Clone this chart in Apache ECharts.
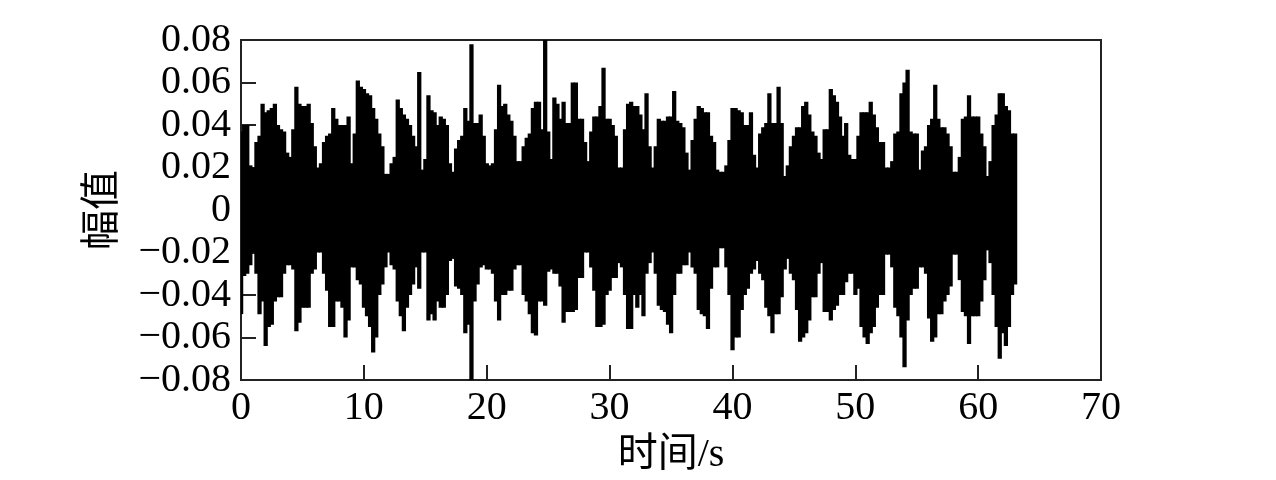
<!DOCTYPE html>
<html>
<head>
<meta charset="utf-8">
<script src="https://cdn.jsdelivr.net/npm/echarts@6/dist/echarts.min.js"></script>
<style>
html,body{margin:0;padding:0;background:#fff;}
#chart{width:1276px;height:480px;}
</style>
</head>
<body>
<div id="chart"></div>
<script>
// Sampling step of the envelope readings (s), starting at t = 0
const dt = 0.25;

// Upper envelope of the signal, read every 0.25 s (0 .. 63 s)
const upper = [
  0.037,0.040,0.040,0.021,0.020,0.032,0.035,0.050,
  0.046,0.047,0.048,0.050,0.040,0.038,0.037,0.027,
  0.025,0.038,0.058,0.050,0.049,0.049,0.050,0.041,
  0.030,0.020,0.022,0.032,0.035,0.036,0.048,0.043,
  0.040,0.040,0.040,0.044,0.022,0.036,0.061,0.058,
  0.057,0.055,0.054,0.048,0.043,0.036,0.030,0.017,
  0.017,0.022,0.025,0.052,0.048,0.045,0.043,0.040,
  0.035,0.030,0.065,0.019,0.024,0.054,0.047,0.046,
  0.040,0.044,0.043,0.040,0.022,0.018,0.029,0.033,
  0.035,0.048,0.042,0.078,0.041,0.041,0.045,0.035,
  0.022,0.021,0.022,0.038,0.059,0.049,0.050,0.045,
  0.042,0.035,0.023,0.023,0.030,0.034,0.036,0.048,
  0.051,0.051,0.038,0.080,0.037,0.024,0.053,0.050,
  0.043,0.051,0.041,0.041,0.060,0.060,0.043,0.043,
  0.032,0.023,0.037,0.044,0.044,0.049,0.067,0.043,
  0.043,0.040,0.035,0.020,0.020,0.038,0.050,0.051,
  0.049,0.049,0.045,0.038,0.055,0.030,0.020,0.030,
  0.043,0.042,0.042,0.044,0.044,0.056,0.042,0.041,
  0.039,0.027,0.019,0.033,0.043,0.049,0.048,0.046,
  0.046,0.035,0.032,0.019,0.018,0.018,0.021,0.033,
  0.048,0.048,0.047,0.046,0.040,0.040,0.046,0.026,
  0.020,0.036,0.039,0.041,0.055,0.041,0.041,0.058,
  0.041,0.016,0.021,0.030,0.035,0.039,0.039,0.049,
  0.051,0.045,0.037,0.035,0.027,0.024,0.038,0.038,
  0.057,0.054,0.051,0.044,0.035,0.041,0.026,0.024,
  0.024,0.035,0.046,0.046,0.046,0.051,0.045,0.039,
  0.032,0.032,0.020,0.020,0.023,0.036,0.037,0.055,
  0.060,0.066,0.037,0.036,0.036,0.019,0.028,0.030,
  0.040,0.043,0.059,0.043,0.039,0.039,0.036,0.030,
  0.018,0.018,0.025,0.043,0.044,0.054,0.044,0.044,
  0.044,0.036,0.030,0.016,0.023,0.040,0.045,0.055,
  0.055,0.049,0.047,0.036,0.036
];

// Lower envelope of the signal, read every 0.25 s (0 .. 63 s)
const lower = [
  -0.049,-0.031,-0.030,-0.026,-0.020,-0.030,-0.049,-0.043,
  -0.064,-0.055,-0.054,-0.043,-0.041,-0.041,-0.030,-0.026,
  -0.026,-0.028,-0.057,-0.053,-0.046,-0.046,-0.046,-0.030,
  -0.028,-0.020,-0.020,-0.030,-0.038,-0.055,-0.055,-0.043,
  -0.043,-0.046,-0.060,-0.052,-0.027,-0.027,-0.033,-0.035,
  -0.046,-0.050,-0.055,-0.067,-0.060,-0.040,-0.035,-0.027,
  -0.020,-0.026,-0.028,-0.043,-0.050,-0.057,-0.046,-0.040,
  -0.035,-0.027,-0.037,-0.020,-0.020,-0.052,-0.049,-0.052,
  -0.043,-0.046,-0.046,-0.040,-0.024,-0.023,-0.036,-0.037,
  -0.040,-0.058,-0.054,-0.082,-0.043,-0.035,-0.027,-0.026,
  -0.028,-0.028,-0.030,-0.043,-0.052,-0.040,-0.040,-0.038,
  -0.038,-0.028,-0.026,-0.026,-0.040,-0.043,-0.049,-0.058,
  -0.059,-0.043,-0.043,-0.045,-0.029,-0.028,-0.030,-0.030,
  -0.036,-0.053,-0.048,-0.048,-0.048,-0.047,-0.032,-0.032,
  -0.020,-0.020,-0.027,-0.038,-0.055,-0.055,-0.054,-0.040,
  -0.038,-0.032,-0.032,-0.025,-0.027,-0.040,-0.056,-0.056,
  -0.040,-0.046,-0.040,-0.050,-0.030,-0.025,-0.020,-0.030,
  -0.045,-0.047,-0.048,-0.054,-0.058,-0.040,-0.030,-0.030,
  -0.026,-0.026,-0.020,-0.027,-0.030,-0.047,-0.049,-0.050,
  -0.056,-0.037,-0.027,-0.027,-0.018,-0.018,-0.027,-0.040,
  -0.066,-0.060,-0.060,-0.047,-0.040,-0.037,-0.030,-0.028,
  -0.024,-0.030,-0.033,-0.046,-0.050,-0.058,-0.049,-0.049,
  -0.041,-0.028,-0.023,-0.030,-0.033,-0.047,-0.062,-0.060,
  -0.058,-0.052,-0.041,-0.041,-0.030,-0.025,-0.048,-0.048,
  -0.052,-0.047,-0.045,-0.040,-0.040,-0.034,-0.030,-0.030,
  -0.040,-0.037,-0.055,-0.060,-0.063,-0.058,-0.055,-0.046,
  -0.040,-0.040,-0.021,-0.021,-0.027,-0.046,-0.050,-0.060,
  -0.074,-0.052,-0.040,-0.037,-0.037,-0.027,-0.027,-0.030,
  -0.051,-0.062,-0.060,-0.049,-0.049,-0.043,-0.040,-0.036,
  -0.021,-0.021,-0.033,-0.048,-0.050,-0.063,-0.050,-0.050,
  -0.050,-0.043,-0.033,-0.019,-0.025,-0.040,-0.055,-0.070,
  -0.058,-0.064,-0.055,-0.040,-0.035
];

// Axis ticks and labels
const xTicks = [0, 10, 20, 30, 40, 50, 60, 70];
const yTicks = [-0.08, -0.06, -0.04, -0.02, 0, 0.02, 0.04, 0.06, 0.08];
const yTickLabels = ['\u22120.08','\u22120.06','\u22120.04','\u22120.02','0','0.02','0.04','0.06','0.08'];
const xName = '时间/s';
const yName = '幅值';

const envData = upper.map(function (u, i) { return [i * dt, lower[i], u]; });

const chart = echarts.init(document.getElementById('chart'), null, { renderer: 'canvas' });
const serif = "'Liberation Serif', 'Times New Roman', 'Noto Sans CJK SC', serif";

chart.setOption({
  animation: false,
  backgroundColor: '#fff',
  textStyle: { fontFamily: serif, color: '#000' },
  grid: {
    left: 241, right: 175, top: 40, bottom: 98,
    show: true, borderColor: '#222', borderWidth: 2, backgroundColor: 'transparent'
  },
  xAxis: {
    type: 'value',
    min: xTicks[0], max: xTicks[xTicks.length - 1], interval: 10,
    splitLine: { show: false },
    axisLine: { show: true, onZero: false, lineStyle: { color: '#222', width: 2 } },
    axisTick: { show: true, inside: true, length: 15, lineStyle: { color: '#222', width: 2 } },
    axisLabel: { fontSize: 40, fontFamily: serif, color: '#000', margin: 8 },
    name: xName, nameLocation: 'middle', nameGap: 55,
    nameTextStyle: { fontSize: 40, fontFamily: serif, color: '#000' }
  },
  yAxis: {
    type: 'value',
    min: yTicks[0], max: yTicks[yTicks.length - 1], interval: 0.02,
    splitLine: { show: false },
    axisLine: { show: true, onZero: false, lineStyle: { color: '#222', width: 2 } },
    axisTick: { show: true, inside: true, length: 15, lineStyle: { color: '#222', width: 2 } },
    axisLabel: {
      fontSize: 40, fontFamily: serif, color: '#000', margin: 10,
      formatter: function (v) {
        const idx = Math.round((v - yTicks[0]) / 0.02);
        return yTickLabels[idx] !== undefined ? yTickLabels[idx] : '';
      }
    },
    name: yName, nameLocation: 'middle', nameGap: 118, nameRotate: 90,
    nameTextStyle: { fontSize: 40, fontFamily: serif, color: '#000' }
  },
  series: [{
    type: 'custom',
    data: envData,
    encode: { x: 0, y: [1, 2] },
    renderItem: function (params, api) {
      const t = api.value(0), lo = api.value(1), hi = api.value(2);
      const p0 = api.coord([t - dt / 2, hi]);
      const p1 = api.coord([t + dt / 2, lo]);
      const cs = params.coordSys;
      const shape = echarts.graphic.clipRectByRect(
        { x: p0[0] - 0.5, y: p0[1], width: p1[0] - p0[0] + 1.2, height: p1[1] - p0[1] },
        { x: cs.x, y: cs.y, width: cs.width, height: cs.height }
      );
      if (!shape) return null;
      return { type: 'rect', shape: shape, style: { fill: '#000' } };
    }
  }]
});
</script>
</body>
</html>
